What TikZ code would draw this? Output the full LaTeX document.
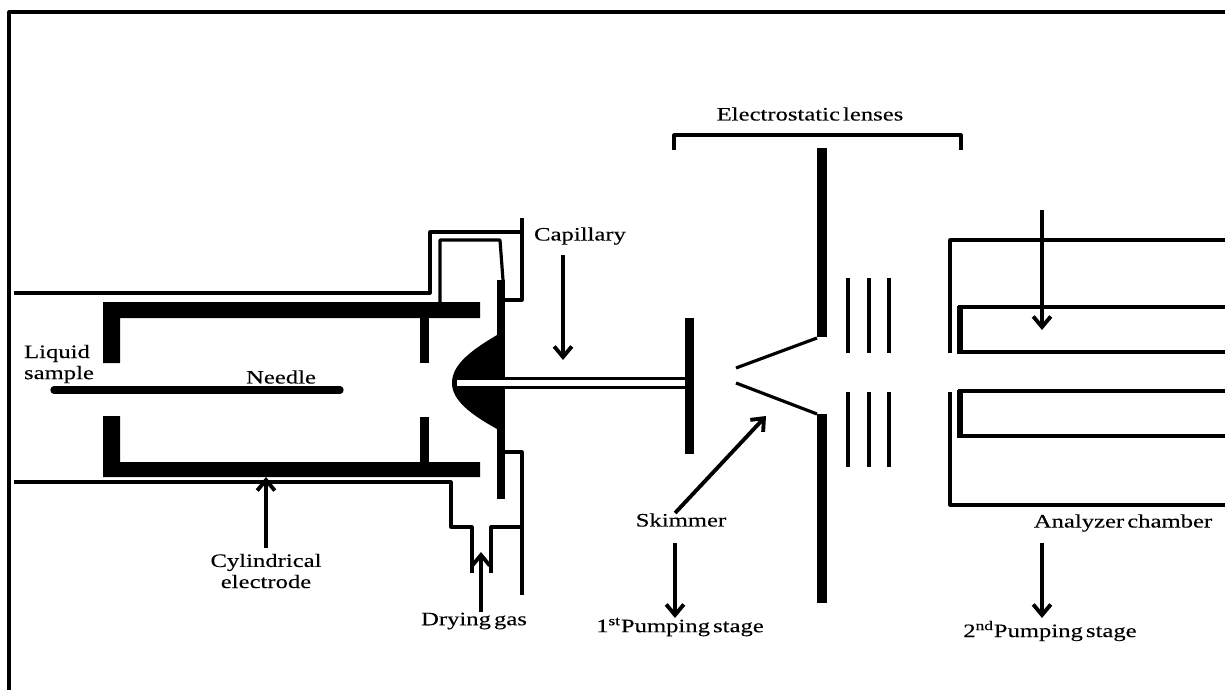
\documentclass[tikz,border=0pt]{standalone}
\usepackage{fontspec}
\setmainfont[FakeStretch=1.3,WordSpace=0.5,FakeBold=0.25]{Liberation Serif}
\usetikzlibrary{arrows.meta}
\tikzset{
  wall/.style={line width=1.8pt, line join=round},
  lens/.style={line width=2.1pt},
  rod/.style={line width=2.2pt, line join=miter},
  bar/.style={fill=black},
  pointer/.style={->, line width=2.2pt},
  tag/.style={inner sep=0pt, font=\fontsize{10.8}{12}\selectfont, align=center}
}

\begin{document}
\begin{tikzpicture}[x=0.02cm, y=-0.02cm, >={Straight Barb[length=6pt, width=10pt]}]
  \useasboundingbox (0,0) rectangle (1225,690);
  \draw[wall] (9,690) -- (9,12) -- (1225,12);

  \draw[wall] (14,293) -- (430,293) -- (430,232) -- (522,232);
  \draw[wall] (522,218) -- (522,300) -- (505,300);
  \draw[wall] (440,302) -- (440,240) -- (500,240) -- (503,280);
  \draw[wall] (14,482) -- (451,482) -- (451,527) -- (472,527) -- (472,573);
  \draw[wall] (491,573) -- (491,527) -- (522,527);
  \draw[wall] (505,452) -- (522,452) -- (522,595);

  \fill[bar] (103,363) -- (103,302) -- (480,302) -- (480,318) -- (120,318) -- (120,363) -- cycle;
  \fill[bar] (103,416) -- (103,477) -- (480,477) -- (480,462) -- (120,462) -- (120,416) -- cycle;
  \fill[bar] (420,318) rectangle (429,363);
  \fill[bar] (420,417) rectangle (429,462);
  \fill[bar] (497,280) rectangle (505,499);
  \fill[bar] (497,335) .. controls (470,351) and (452,365) .. (452,383) .. controls (452,400) and (470,414) .. (497,429) -- cycle;
  \draw[line width=4.2pt, line cap=round] (54,390) -- (340,390);
  \fill[white] (457,380) rectangle (505,386);
  \fill[bar] (505,376.5) rectangle (685,379.5);
  \fill[bar] (505,386) rectangle (685,389);

  \fill[bar] (685,318) rectangle (694,454);
  \fill[bar] (817,148) rectangle (827,337);
  \fill[bar] (817,414) rectangle (827,603);
  \draw[wall] (736,368) -- (817,338);
  \draw[wall] (736,383) -- (817,414);

  \foreach \lensx in {848,869,889} {
    \draw[lens] (\lensx,278) -- (\lensx,353);
    \draw[lens] (\lensx,392) -- (\lensx,467);
  }
  \draw[wall] (674,150) -- (674,135) -- (961,135) -- (961,150);

  \draw[wall] (1225,240) -- (950,240) -- (950,353);
  \draw[wall] (950,392) -- (950,505) -- (1225,505);
  \draw[rod] (1225,307) -- (960,307) -- (960,352) -- (1225,352);
  \draw[rod] (1225,391) -- (960,391) -- (960,436) -- (1225,436);
  \draw[line width=3.5pt] (960,305.5) -- (960,354);
  \draw[line width=3.5pt] (960,389.5) -- (960,438);

  \node[tag] (lenseslabel) at (810,114) {Electrostatic lenses};
  \node[tag] (capillarylabel) at (580,236) {Capillary};
  \node[tag, align=left] (samplelabel) at (59,364) {Liquid\\sample};
  \node[tag] (needlelabel) at (281,377) {Needle};
  \node[tag] (skimmerlabel) at (681,520) {Skimmer};
  \node[tag] (electrodelabel) at (266,571) {Cylindrical\\electrode};
  \node[tag] (gaslabel) at (474,621) {Drying gas};
  \node[tag] (firstlabel) at (680,627) {1\textsuperscript{st}Pumping stage};
  \node[tag] (secondlabel) at (1050,631) {2\textsuperscript{nd}Pumping stage};
  \node[tag] (analyzerlabel) at (1123,523) {Analyzer chamber};

  \coordinate (capillarystart) at (563,255);
  \coordinate (capillarytip) at (563,360);
  \coordinate (skimmertip) at (766,416);
  \coordinate (electrodestart) at (266,548);
  \coordinate (electrodetip) at (266,477);
  \coordinate (gasstart) at (481,612);
  \coordinate (gastip) at (481,552);
  \coordinate (firststart) at (675,543);
  \coordinate (firsttip) at (675,618);
  \coordinate (secondstart) at (1042,543);
  \coordinate (secondtip) at (1042,618);
  \coordinate (analyzerstart) at (1042,210);
  \coordinate (analyzertip) at (1042,330);

  \draw[pointer] (capillarystart) -- (capillarytip);
  \draw[pointer] (skimmerlabel.130) -- (skimmertip);
  \draw[pointer] (electrodestart) -- (electrodetip);
  \draw[pointer] (gasstart) -- (gastip);
  \draw[pointer] (firststart) -- (firsttip);
  \draw[pointer] (secondstart) -- (secondtip);
  \draw[pointer] (analyzerstart) -- (analyzertip);
\end{tikzpicture}
\end{document}
